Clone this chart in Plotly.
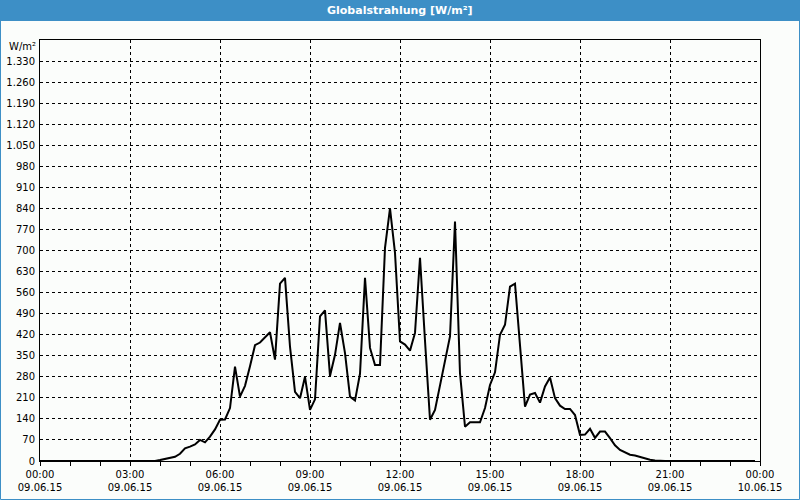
import plotly.graph_objects as go
import pandas as pd

# 10-minute samples, 09.06.15 00:00 .. 23:50
start = "2015-06-09 00:00"
values = (
    [0] * 24 +
    [3, 6, 10, 14, 24, 42, 48, 55, 70, 62, 81, 105, 137, 138, 176, 314,
     214, 250, 315, 385, 394, 410, 428, 337, 590, 609, 380, 230, 209, 280,
     170, 205, 481, 501, 283, 353, 459, 359, 214, 201, 290, 609, 376, 319,
     319, 709, 840, 692, 398, 387, 367, 426, 676, 400, 137, 170, 248, 326,
     414, 796, 292, 114, 129, 129, 129, 176, 253, 295, 420, 453, 580, 590,
     390, 181, 221, 226, 194, 248, 278, 209, 184, 173, 173, 153, 87, 88,
     107, 77, 98, 98, 76, 52, 37, 28, 21, 18, 13, 7, 4, 2] +
    [0] * 20
)
times = pd.date_range(start, periods=len(values), freq="10min")

y_ticks = list(range(0, 1331, 70))
y_ticktext = [f"{v:,}".replace(",", ".") for v in y_ticks]

title_text = "Globalstrahlung [W/m²]"
unit_text = "W/m²"

BLUE = "#3d8fc6"
BG = "#fbfdfb"
FONT = "DejaVu Sans"

fig = go.Figure()
fig.add_trace(go.Scatter(
    x=times, y=values, mode="lines",
    line=dict(color="black", width=2),
    hoverinfo="skip", showlegend=False,
))

W, H = 800, 500
L, R, T, B = 40, 40, 40, 39
pw, ph = W - L - R, H - T - B

fig.update_layout(
    width=W, height=H,
    margin=dict(l=L, r=R, t=T, b=B, pad=0, autoexpand=False),
    paper_bgcolor=BG, plot_bgcolor=BG,
    font=dict(family=FONT, size=10, color="black"),
    showlegend=False,
)

fig.update_xaxes(
    type="date",
    range=["2015-06-09 00:00", "2015-06-10 00:00"],
    tickformat="%H:%M<br>%d.%m.%y",
    dtick=3 * 3600 * 1000,
    tick0="2015-06-09 00:00",
    ticks="outside", ticklen=4, tickcolor="black",
    showgrid=True, gridcolor="black", griddash="3px,3px", gridwidth=1,
    showline=True, linecolor="black", linewidth=1, mirror=True,
    zeroline=False, automargin=False,
    minor=dict(dtick=3600 * 1000, ticks="outside", ticklen=4,
               tickcolor="black", showgrid=False),
    tickfont=dict(family=FONT, size=10, color="black"),
    fixedrange=True,
)
fig.update_yaxes(
    range=[0, 1400],
    tickmode="array", tickvals=y_ticks, ticktext=y_ticktext,
    ticks="outside", ticklen=2, tickcolor=BG,
    showgrid=True, gridcolor="black", griddash="3px,3px", gridwidth=1,
    showline=True, linecolor="black", linewidth=1, mirror=True,
    zeroline=False, automargin=False,
    tickfont=dict(family=FONT, size=10, color="black"),
    fixedrange=True,
)

# title bar
fig.add_shape(type="rect", xref="paper", yref="paper",
              x0=-L / pw, x1=1 + R / pw, y0=1 + (T - 21) / ph, y1=1 + T / ph,
              fillcolor=BLUE, line=dict(width=0), layer="below")
# outer frame
fig.add_shape(type="rect", xref="paper", yref="paper",
              x0=-(L - 0.5) / pw, x1=1 + (R - 0.5) / pw,
              y0=-(B - 0.5) / ph, y1=1 + (T - 0.5) / ph,
              fillcolor="rgba(0,0,0,0)", line=dict(color=BLUE, width=1))

fig.add_annotation(text=f"<b>{title_text}</b>", xref="paper", yref="paper",
                   x=(400 - L) / pw, y=1 + (T - 10.5) / ph,
                   xanchor="center", yanchor="middle", showarrow=False,
                   font=dict(family=FONT, size=11, color="white"))
fig.add_annotation(text=unit_text, xref="paper", yref="paper",
                   x=-2 / pw, y=1 - 6 / ph, xanchor="right", yanchor="middle",
                   showarrow=False,
                   font=dict(family=FONT, size=10, color="black"))

fig.write_html("out.html")
